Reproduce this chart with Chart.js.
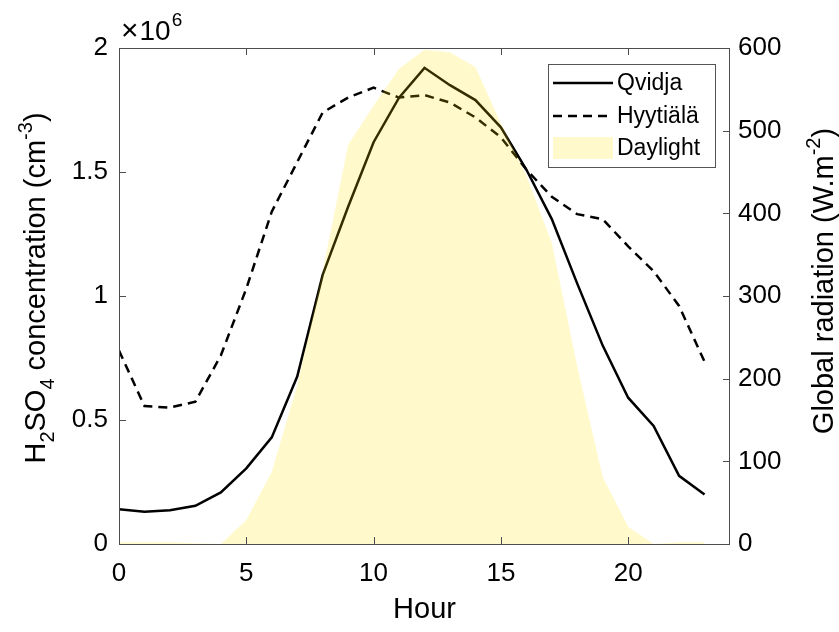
<!DOCTYPE html>
<html>
<head>
<meta charset="utf-8">
<script src="https://cdn.jsdelivr.net/npm/chart.js"></script>
<style>
  html, body { margin: 0; padding: 0; background: #fff; }
  #wrap { width: 839px; height: 632px; }
</style>
</head>
<body>
<div id="wrap"><canvas id="chart" width="839" height="632"></canvas></div>
<script>
// --- Datos ---
const hours = [0, 1, 2, 3, 4, 5, 6, 7, 8, 9, 10, 11, 12, 13, 14, 15, 16, 17, 18, 19, 20, 21, 22, 23];
// H2SO4 concentration, x10^6 cm^-3
const qvidja = [0.14, 0.13, 0.136, 0.154, 0.208, 0.305, 0.43, 0.675, 1.085, 1.36, 1.62, 1.80, 1.92, 1.85, 1.79, 1.68, 1.51, 1.31, 1.05, 0.80, 0.59, 0.476, 0.275, 0.20];
const hyytiala = [0.78, 0.556, 0.55, 0.574, 0.76, 1.03, 1.34, 1.54, 1.74, 1.80, 1.84, 1.80, 1.81, 1.78, 1.72, 1.64, 1.51, 1.40, 1.33, 1.31, 1.20, 1.10, 0.96, 0.735];
// Global radiation, W m^-2
const radiation = [2, 2, 2, 1, 0, 29, 87, 192, 330, 483, 530, 575, 598, 595, 577, 509, 446, 364, 215, 81, 21, 0, 2, 2];

const xTicks = [0, 5, 10, 15, 20];
const fontFamily = "'Liberation Sans', Arial, sans-serif";

const toPoints = (vals) => hours.map((h, i) => ({ x: h, y: vals[i] }));

// --- Texto con sub/superíndices ---
function drawRich(ctx, parts, cx, cy, angle, size) {
  ctx.save();
  ctx.translate(cx, cy);
  ctx.rotate(angle);
  ctx.fillStyle = "#000";
  ctx.textBaseline = "alphabetic";
  ctx.textAlign = "left";
  const fontOf = (p) => `${p.s ? Math.round(size * 0.7) : size}px ${fontFamily}`;
  let w = 0;
  parts.forEach((p) => { ctx.font = fontOf(p); w += ctx.measureText(p.t).width; });
  let x = -w / 2;
  parts.forEach((p) => {
    ctx.font = fontOf(p);
    const dy = p.s === "sub" ? size * 0.3 : p.s === "sup" ? -size * 0.45 : 0;
    ctx.fillText(p.t, x, dy);
    x += ctx.measureText(p.t).width;
  });
  ctx.restore();
}

const decorPlugin = {
  id: "decor",
  afterDraw(chart) {
    const ctx = chart.ctx;
    const a = chart.chartArea;
    const xs = chart.scales.x, yl = chart.scales.y, yr = chart.scales.y2;
    const tick = 7;

    // caja y marcas hacia adentro
    ctx.save();
    ctx.strokeStyle = "#4d4d4d";
    ctx.lineWidth = 1;
    ctx.strokeRect(a.left + 0.5, a.top + 0.5, a.right - a.left - 1, a.bottom - a.top);
    ctx.beginPath();
    xTicks.forEach((v) => {
      const px = Math.round(xs.getPixelForValue(v)) + 0.5;
      ctx.moveTo(px, a.bottom); ctx.lineTo(px, a.bottom - tick);
      ctx.moveTo(px, a.top); ctx.lineTo(px, a.top + tick);
    });
    yl.ticks.forEach((t) => {
      const py = Math.round(yl.getPixelForValue(t.value)) + 0.5;
      ctx.moveTo(a.left, py); ctx.lineTo(a.left + tick, py);
    });
    yr.ticks.forEach((t) => {
      const py = Math.round(yr.getPixelForValue(t.value)) + 0.5;
      ctx.moveTo(a.right, py); ctx.lineTo(a.right - tick, py);
    });
    ctx.stroke();
    ctx.restore();

    // leyenda
    const lx = 548, ly = 64, lw = 167, lh = 103;
    ctx.save();
    ctx.fillStyle = "#fff";
    ctx.fillRect(lx, ly, lw, lh);
    ctx.strokeStyle = "#555";
    ctx.lineWidth = 1;
    ctx.strokeRect(lx + 0.5, ly + 0.5, lw, lh);
    ctx.lineWidth = 2.5;
    ctx.strokeStyle = "#000";
    ctx.beginPath(); ctx.moveTo(553, 83); ctx.lineTo(613, 83); ctx.stroke();
    ctx.setLineDash([9, 6]);
    ctx.beginPath(); ctx.moveTo(553, 116); ctx.lineTo(613, 116); ctx.stroke();
    ctx.setLineDash([]);
    ctx.fillStyle = "rgba(255, 225, 0, 0.2)";
    ctx.fillRect(553, 137, 60, 22);
    ctx.fillStyle = "#000";
    ctx.font = `23px ${fontFamily}`;
    ctx.textBaseline = "middle";
    ctx.fillText("Qvidja", 617, 84);
    ctx.fillText("Hyytiälä", 617, 117);
    ctx.fillText("Daylight", 617, 149);
    ctx.restore();

    // títulos de ejes
    drawRich(ctx, [
      { t: "H" }, { t: "2", s: "sub" }, { t: "SO" }, { t: "4", s: "sub" },
      { t: " concentration (cm" }, { t: "-3", s: "sup" }, { t: ")" },
    ], 45, 288, -Math.PI / 2, 29);
    drawRich(ctx, [
      { t: "Global radiation (W.m" }, { t: "-2", s: "sup" }, { t: ")" },
    ], 833, 281, -Math.PI / 2, 29);

    ctx.save();
    ctx.fillStyle = "#000";
    ctx.textBaseline = "alphabetic";
    ctx.font = `29px ${fontFamily}`;
    ctx.textAlign = "center";
    ctx.fillText("Hour", (a.left + a.right) / 2, 618);
    ctx.textAlign = "left";
    ctx.font = `30px ${fontFamily}`;
    ctx.fillText("\u00d7", 121, 40);
    let ex = 121 + ctx.measureText("\u00d7").width + 1;
    ctx.font = `28px ${fontFamily}`;
    ctx.fillText("10", ex, 40);
    ex += ctx.measureText("10").width + 1;
    ctx.font = `19px ${fontFamily}`;
    ctx.fillText("6", ex, 26);
    ctx.restore();
  },
};

new Chart(document.getElementById("chart"), {
  type: "line",
  data: {
    datasets: [
      {
        label: "Daylight",
        data: toPoints(radiation),
        yAxisID: "y2",
        fill: "origin",
        backgroundColor: "rgba(255, 225, 0, 0.2)",
        borderWidth: 0,
        pointRadius: 0,
        tension: 0,
        order: 0,
      },
      {
        label: "Qvidja",
        data: toPoints(qvidja),
        yAxisID: "y",
        borderColor: "#000",
        borderWidth: 2.5,
        pointRadius: 0,
        fill: false,
        tension: 0,
        order: 1,
      },
      {
        label: "Hyytiälä",
        data: toPoints(hyytiala),
        yAxisID: "y",
        borderColor: "#000",
        borderWidth: 2.5,
        borderDash: [9, 6],
        pointRadius: 0,
        fill: false,
        tension: 0,
        order: 2,
      },
    ],
  },
  options: {
    responsive: false,
    animation: false,
    layout: { padding: { top: 48, left: 0, right: 0, bottom: 0 } },
    plugins: { legend: { display: false }, tooltip: { enabled: false } },
    scales: {
      x: {
        type: "linear",
        min: 0,
        max: 24,
        grid: { display: false, drawTicks: false },
        border: { display: false },
        afterBuildTicks: (s) => { s.ticks = xTicks.map((v) => ({ value: v })); },
        afterFit: (s) => { s.height = 88; },
        ticks: { color: "#000", padding: 14, font: { size: 26, family: fontFamily } },
      },
      y: {
        position: "left",
        min: 0,
        max: 2,
        grid: { display: false, drawTicks: false },
        border: { display: false },
        afterFit: (s) => { s.width = 119; },
        ticks: {
          stepSize: 0.5,
          color: "#000",
          padding: 11,
          font: { size: 26, family: fontFamily },
          callback: (v) => String(v),
        },
      },
      y2: {
        position: "right",
        min: 0,
        max: 600,
        grid: { display: false, drawTicks: false },
        border: { display: false },
        afterFit: (s) => { s.width = 109; },
        ticks: { stepSize: 100, color: "#000", padding: 8, font: { size: 26, family: fontFamily } },
      },
    },
  },
  plugins: [decorPlugin],
});
</script>
</body>
</html>
